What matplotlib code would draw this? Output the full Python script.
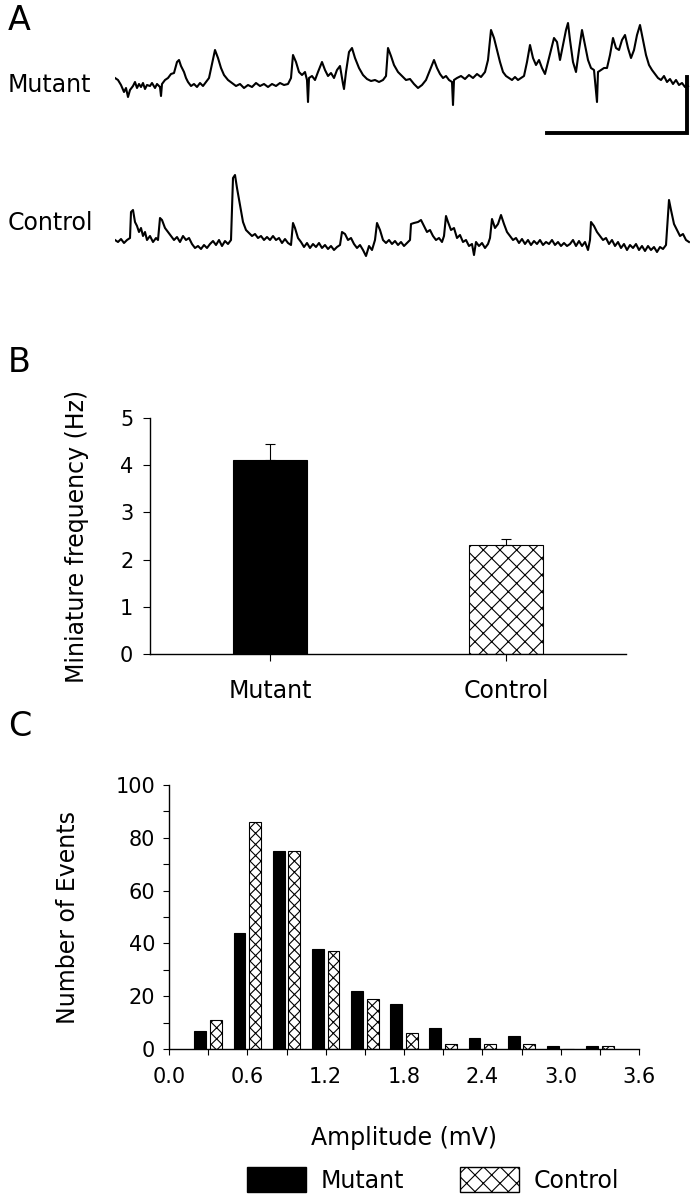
import numpy as np
import matplotlib.pyplot as plt
from matplotlib.patches import Patch
from matplotlib.ticker import MultipleLocator, FormatStrFormatter

# ---- panel A: example traces (time in samples, amplitude above baseline) ----
mutant_t = [0, 3, 6, 9, 11, 13, 15, 18, 20, 22, 24, 26, 28, 30, 32, 35, 37, 40, 42, 45,
            46, 47, 50, 53, 56, 59, 62, 64, 66, 69, 71, 73, 76, 79, 82, 85, 88, 91, 94, 97,
            100, 103, 106, 109, 113, 117, 121, 125, 129, 133, 137, 141, 145, 149, 153, 157,
            161, 165, 169, 173, 176, 178, 181, 184, 187, 190, 192, 193, 194, 197, 200, 203,
            207, 210, 213, 216, 219, 222, 225, 228, 229, 231, 234, 237, 240, 244, 248, 252,
            256, 260, 264, 268, 271, 273, 276, 279, 283, 287, 291, 295, 299, 303, 307, 311,
            315, 319, 322, 325, 328, 331, 334, 337, 338, 339, 342, 346, 350, 354, 358, 362,
            366, 370, 373, 376, 379, 382, 385, 388, 391, 394, 397, 400, 403, 406, 409, 412,
            415, 418, 421, 424, 427, 430, 433, 436, 439, 442, 445, 448, 451, 453, 455, 458,
            461, 464, 467, 470, 473, 476, 479, 482, 483, 486, 489, 492, 495, 498, 501, 504,
            507, 510, 513, 516, 519, 522, 525, 528, 531, 534, 537, 540, 543, 546, 549, 552,
            555, 558, 561, 564, 567, 570, 573]
mutant_v = [9, 7, 2, -5, -1, -10, -3, 1, 5, -1, 3, 0, 4, -2, 2, 1, 4, -1, 3, 0,
            -9, 3, 7, 9, 13, 14, 25, 27, 21, 15, 9, 5, 1, 3, 0, 4, 1, 5, 9, 23,
            37, 29, 19, 12, 7, 4, 1, 3, -1, 2, 0, 4, 1, 3, 0, 3,
            1, 4, 2, 3, 9, 32, 25, 15, 12, 15, 7, -15, 9, 11, 7, 15,
            25, 17, 11, 14, 9, 17, 21, 3, -2, 15, 35, 39, 29, 19, 12, 8,
            6, 7, 5, 7, 11, 39, 31, 22, 15, 11, 7, 8, 3, -1, 2, 7,
            17, 27, 19, 13, 9, 11, 7, 5, -18, 7, 9, 11, 8, 12, 9, 13,
            10, 15, 27, 57, 49, 37, 25, 15, 11, 9, 7, 10, 7, 9, 11, 25,
            42, 29, 22, 27, 19, 13, 25, 37, 49, 45, 27, 42, 57, 64, 47, 25,
            15, 37, 57, 42, 27, 19, 17, -15, 15, 17, 19, 19, 32, 49, 39, 37,
            47, 52, 39, 29, 37, 52, 62, 47, 32, 22, 17, 13, 9, 7, 11, 5,
            8, 3, 7, 2, 4, 0, 1]

control_t = [0, 3, 6, 9, 12, 15, 16, 18, 20, 22, 24, 26, 28, 30, 32, 35, 38, 41, 43, 45,
             47, 50, 53, 56, 59, 62, 65, 68, 71, 74, 77, 80, 83, 86, 89, 92, 95, 98, 101, 104,
             107, 110, 113, 116, 118, 120, 122, 125, 128, 131, 134, 137, 140, 143, 146, 149,
             152, 155, 158, 161, 164, 167, 170, 173, 176, 178, 180, 183, 186, 189, 192, 195,
             198, 201, 204, 207, 210, 213, 216, 219, 222, 225, 227, 230, 233, 236, 239, 242,
             245, 248, 251, 254, 257, 260, 262, 265, 268, 271, 274, 277, 280, 283, 286, 289,
             292, 295, 296, 299, 303, 306, 309, 312, 315, 318, 321, 324, 327, 329, 331, 333,
             336, 339, 342, 345, 348, 351, 354, 357, 359, 361, 364, 367, 370, 373, 375, 377,
             380, 383, 386, 389, 392, 395, 398, 401, 404, 407, 410, 413, 416, 419, 422, 425,
             428, 431, 434, 437, 440, 443, 446, 449, 452, 455, 458, 461, 464, 467, 470, 473,
             475, 476, 479, 482, 485, 488, 491, 494, 497, 500, 503, 506, 509, 512, 515, 518,
             521, 524, 527, 530, 533, 536, 539, 542, 545, 548, 551, 553, 554, 556, 559, 562,
             565, 568, 571, 574]
control_v = [1, -1, 2, -2, 1, 3, 29, 31, 19, 15, 9, 13, 5, 9, 1, 5, -1, 3, 1, 23,
             21, 13, 9, 5, 1, 4, -1, 5, 1, 3, -3, -7, -5, -8, -4, -7, -3, 0, -4, 1,
             -5, 0, -3, 1, 63, 66, 53, 36, 19, 11, 8, 5, 7, 3, 5, 1,
             4, 1, 5, 1, 3, -2, 2, -2, -4, 18, 13, 3, -1, -6, -2, -7,
             -3, -6, -2, -7, -4, -8, -5, -9, -6, -4, 9, 7, 1, 3, -3, -7,
             -4, -9, -15, -5, -9, 1, 18, 11, 1, -2, 1, -3, 0, -4, -1, -5,
             -2, 1, 17, 18, 19, 21, 15, 9, 11, 5, 1, 3, -1, 5, 25, 19,
             11, 13, 3, 6, -1, 1, -5, -3, -14, -1, -5, -2, -7, -3, 3, 22,
             13, 17, 26, 17, 9, 5, 1, 3, -2, 2, -3, 1, -4, 0, -3, 1,
             -4, -1, -3, 1, -4, -1, -5, -2, -5, -3, 1, -5, 0, -5, -1, -9,
             1, 19, 15, 9, 5, 1, 3, -3, 1, -5, -1, -7, -3, -9, -4, -7,
             -3, -9, -5, -10, -5, -9, -6, -11, -6, -8, -4, 26, 41, 31, 17, 11,
             5, 7, 1, -1]

# ---- panel B: miniature frequency ----
groups = ['Mutant', 'Control']
freq_mean = [4.1, 2.3]
freq_sem = [0.35, 0.13]

# ---- panel C: amplitude histogram ----
amp_bins = [0.3, 0.6, 0.9, 1.2, 1.5, 1.8, 2.1, 2.4, 2.7, 3.0, 3.3]
mutant_counts = [7, 44, 75, 38, 22, 17, 8, 4, 5, 1, 1]
control_counts = [11, 86, 75, 37, 19, 6, 2, 2, 2, 0, 1]

W, H = 696, 1200


def box(l, t, r, b):
    return [l / W, 1 - b / H, (r - l) / W, (b - t) / H]


plt.rcParams['font.family'] = ['DejaVu Sans']
plt.rcParams['hatch.linewidth'] = 0.8

fig = plt.figure(figsize=(6.96, 12), dpi=100)

# panel letters
for letter, yp in [('A', 20), ('B', 363), ('C', 727)]:
    fig.text(8 / W, 1 - yp / H, letter, fontsize=24, va='center', ha='left')

# ---- A ----
axA = fig.add_axes(box(115, 0, 690, 290))
axA.set_xlim(0, 575)
axA.set_ylim(0, 290)
axA.axis('off')
axA.plot(mutant_t, np.array(mutant_v) + 203, color='black', lw=1.5)
axA.plot(control_t, np.array(control_v) + 49, color='black', lw=1.5)
# scale bar
axA.plot([432, 572, 572], [157, 157, 213], color='black', lw=2.8,
         solid_joinstyle='miter', clip_on=False)
fig.text(8 / W, 1 - 85 / H, 'Mutant', fontsize=17, va='center')
fig.text(8 / W, 1 - 223 / H, 'Control', fontsize=17, va='center')

# ---- B ----
axB = fig.add_axes(box(150, 418, 626, 654))
xpos = np.arange(len(groups))
axB.bar(xpos[0], freq_mean[0], width=0.31, color='black', edgecolor='black', lw=0.8)
axB.bar(xpos[1], freq_mean[1], width=0.31, color='white', edgecolor='black',
        hatch='xx', lw=0.8)
axB.errorbar(xpos, freq_mean, yerr=[[0, 0], freq_sem], fmt='none', ecolor='black',
             elinewidth=0.8, capsize=3.5, capthick=0.8)
axB.set_xlim(-0.508, 1.508)
axB.set_ylim(0, 5)
axB.set_xticks(xpos)
axB.set_xticklabels(groups)
axB.set_yticks(range(6))
axB.set_ylabel('Miniature frequency (Hz)', fontsize=17)
axB.yaxis.set_label_coords(-0.128, 0.5)
for s in ['top', 'right']:
    axB.spines[s].set_visible(False)
for s in ['left', 'bottom']:
    axB.spines[s].set_linewidth(1.0)
axB.tick_params(axis='y', direction='out', length=5, width=0.8, labelsize=15, pad=7)
axB.tick_params(axis='x', direction='out', length=5, width=0.8, labelsize=17, pad=13)

# ---- C ----
axC = fig.add_axes(box(169, 785, 639, 1049))
bins = np.array(amp_bins)
axC.bar(bins - 0.06, mutant_counts, width=0.09, color='black', edgecolor='black', lw=0.8)
axC.bar(bins + 0.06, control_counts, width=0.09, color='white', edgecolor='black',
        hatch='xxx', lw=0.8)
axC.set_xlim(0, 3.6)
axC.set_ylim(0, 100)
axC.xaxis.set_major_locator(MultipleLocator(0.6))
axC.xaxis.set_minor_locator(MultipleLocator(0.3))
axC.xaxis.set_major_formatter(FormatStrFormatter('%.1f'))
axC.yaxis.set_major_locator(MultipleLocator(20))
axC.yaxis.set_minor_locator(MultipleLocator(10))
for s in ['top', 'right']:
    axC.spines[s].set_visible(False)
for s in ['left', 'bottom']:
    axC.spines[s].set_linewidth(1.0)
axC.tick_params(which='both', direction='out', length=4, width=0.8)
axC.tick_params(axis='both', which='major', labelsize=15)
axC.tick_params(axis='x', which='major', pad=9)
axC.tick_params(axis='y', which='major', pad=6)
axC.set_ylabel('Number of Events', fontsize=17)
axC.yaxis.set_label_coords(-0.19, 0.5)
axC.set_xlabel('Amplitude (mV)', fontsize=17)
axC.xaxis.set_label_coords(0.5, -0.29)

handles = [Patch(facecolor='black', edgecolor='black', label='Mutant'),
           Patch(facecolor='white', edgecolor='black', hatch='xx', label='Control')]
fig.legend(handles=handles, loc='center', bbox_to_anchor=(433 / W, 1 - 1180 / H),
           ncol=2, frameon=False, fontsize=17, handlelength=2.5, handleheight=1.2,
           handletextpad=0.6, columnspacing=2.4)

fig.savefig('out.png', dpi=100)
